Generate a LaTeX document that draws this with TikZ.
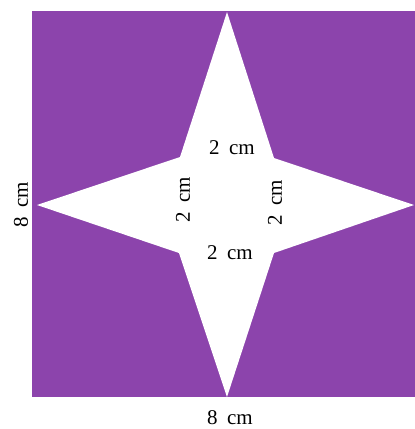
\documentclass[tikz,border=0pt]{standalone}
\usepackage{fontspec}
\setmainfont{Liberation Serif}
\definecolor{starpurple}{RGB}{140,68,172}
\begin{document}
\begin{tikzpicture}[x=1pt,y=-1pt,
  lbl/.style={font=\fontsize{21}{23}\selectfont, inner sep=0pt, text=black}]
\useasboundingbox (0,0) rectangle (415,429);
\fill[starpurple] (32,11) rectangle (415,397);
\coordinate (T) at (227,12);
\coordinate (R) at (414,205);
\coordinate (B) at (227,397);
\coordinate (L) at (37,205);
\coordinate (TL) at (180,157);
\coordinate (TR) at (274,158);
\coordinate (BR) at (274,253);
\coordinate (BL) at (179,253);
\fill[white] (T) -- (TR) -- (R) -- (BR) -- (B) -- (BL) -- (L) -- (TL) -- cycle;
\node[lbl] (top) at (232,148) {2\hspace{0.45em}cm};
\node[lbl] (bot) at (230,253) {2\hspace{0.45em}cm};
\node[lbl, rotate=90] (lft) at (183,200) {2\hspace{0.45em}cm};
\node[lbl, rotate=90] (rgt) at (275,203) {2\hspace{0.45em}cm};
\node[lbl, rotate=90] (side) at (21,205) {8\hspace{0.45em}cm};
\node[lbl] (base) at (230,418) {8\hspace{0.45em}cm};
\end{tikzpicture}
\end{document}
